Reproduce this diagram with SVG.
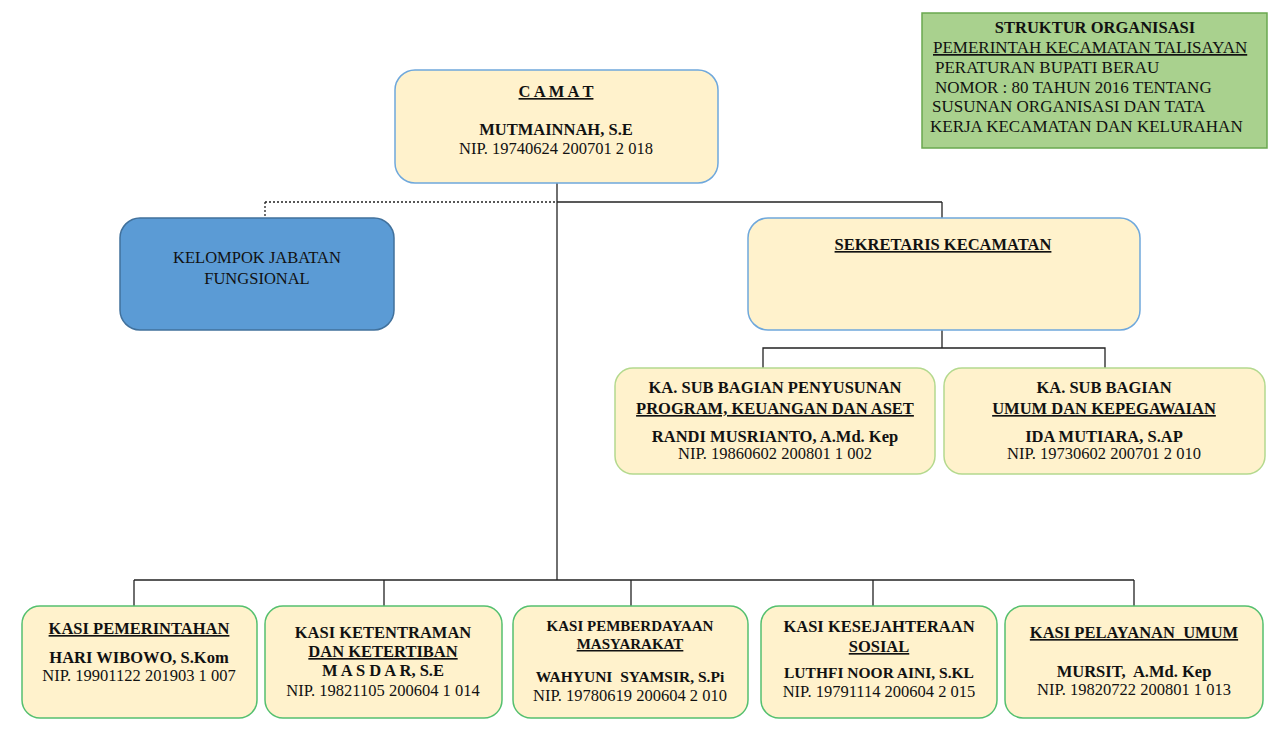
<svg xmlns="http://www.w3.org/2000/svg" width="1280" height="730" viewBox="0 0 1280 730">
<style>
text{font-family:"Liberation Serif","Times New Roman",serif;fill:#111;text-anchor:middle;font-size:16.5px}
.b{font-weight:bold}
.u{text-decoration:underline}
.l{text-anchor:start;font-size:17px}
.pre{white-space:pre}
.yb{fill:#fff2cc;stroke:#6fa8dc;stroke-width:1.5}
.gs{fill:#fff2cc;stroke:#b4d98e;stroke-width:1.5}
.gb{fill:#fff2cc;stroke:#55c06f;stroke-width:1.5}
.c{stroke:#222;stroke-width:1.3;fill:none}
</style>
<rect width="1280" height="730" fill="#ffffff"/>
<g id="connectors">
<line class="c" x1="557" y1="183" x2="557" y2="580"/>
<line class="c" x1="265" y1="202" x2="557" y2="202" stroke-dasharray="2,2"/>
<line class="c" x1="265" y1="202" x2="265" y2="218" stroke-dasharray="2,2"/>
<line class="c" x1="557" y1="202" x2="942" y2="202"/>
<line class="c" x1="942" y1="202" x2="942" y2="218"/>
<line class="c" x1="942" y1="330" x2="942" y2="348"/>
<polyline class="c" points="763,368 763,348 1105,348 1105,368"/>
<line class="c" x1="134" y1="580" x2="1134" y2="580"/>
<line class="c" x1="134" y1="580" x2="134" y2="606"/>
<line class="c" x1="384" y1="580" x2="384" y2="606"/>
<line class="c" x1="631" y1="580" x2="631" y2="606"/>
<line class="c" x1="873" y1="580" x2="873" y2="606"/>
<line class="c" x1="1134" y1="580" x2="1134" y2="606"/>
</g>
<g id="title">
<rect x="922" y="13" width="345" height="135" fill="#a9d18e" stroke="#6aa84f" stroke-width="1.5"/>
<text class="b" x="1095" y="33" style="font-size:16.5px">STRUKTUR ORGANISASI</text>
<text class="l u" x="933" y="53">PEMERINTAH KECAMATAN TALISAYAN</text>
<text class="l" x="935" y="73">PERATURAN BUPATI BERAU</text>
<text class="l" x="935" y="93">NOMOR : 80 TAHUN 2016 TENTANG</text>
<text class="l" x="932" y="112">SUSUNAN ORGANISASI DAN TATA</text>
<text class="l" x="930" y="132">KERJA KECAMATAN DAN KELURAHAN</text>
</g>
<g id="camat">
<rect class="yb" x="395" y="70" width="323" height="113" rx="20"/>
<text class="b u" x="556" y="97">C A M A T</text>
<text class="b" x="556" y="135">MUTMAINNAH, S.E</text>
<text x="556" y="154">NIP. 19740624 200701 2 018</text>
</g>
<g id="kelompok">
<rect x="120" y="218" width="274" height="112" rx="20" fill="#5b9bd5" stroke="#41719c" stroke-width="1.5"/>
<text x="257" y="263">KELOMPOK JABATAN</text>
<text x="257" y="284">FUNGSIONAL</text>
</g>
<g id="sekretaris">
<rect class="yb" x="748" y="218" width="392" height="112" rx="20"/>
<text class="b u" x="943" y="250">SEKRETARIS KECAMATAN</text>
</g>
<g id="subbag-program">
<rect class="gs" x="615" y="368" width="320" height="106" rx="18"/>
<text class="b" x="775" y="393">KA. SUB BAGIAN PENYUSUNAN</text>
<text class="b u" x="775" y="414">PROGRAM, KEUANGAN DAN ASET</text>
<text class="b" x="775" y="442">RANDI MUSRIANTO, A.Md. Kep</text>
<text x="775" y="459">NIP. 19860602 200801 1 002</text>
</g>
<g id="subbag-umum">
<rect class="gs" x="944" y="368" width="321" height="106" rx="18"/>
<text class="b" x="1104" y="393">KA. SUB BAGIAN</text>
<text class="b u" x="1104" y="414">UMUM DAN KEPEGAWAIAN</text>
<text class="b" x="1104" y="442">IDA MUTIARA, S.AP</text>
<text x="1104" y="459">NIP. 19730602 200701 2 010</text>
</g>
<g id="kasi-pemerintahan">
<rect class="gb" x="22" y="606" width="235" height="112" rx="18"/>
<text class="b u" x="139" y="634">KASI PEMERINTAHAN</text>
<text class="b" x="139" y="663">HARI WIBOWO, S.Kom</text>
<text x="139" y="681">NIP. 19901122 201903 1 007</text>
</g>
<g id="kasi-ketentraman">
<rect class="gb" x="265" y="606" width="237" height="112" rx="18"/>
<text class="b" x="383" y="638">KASI KETENTRAMAN</text>
<text class="b u" x="383" y="657">DAN KETERTIBAN</text>
<text class="b" x="383" y="676">M A S D A R, S.E</text>
<text x="383" y="696">NIP. 19821105 200604 1 014</text>
</g>
<g id="kasi-pemberdayaan">
<rect class="gb" x="513" y="606" width="235" height="112" rx="18"/>
<text class="b" x="630" y="631" style="font-size:15px">KASI PEMBERDAYAAN</text>
<text class="b u" x="630" y="649" style="font-size:15px">MASYARAKAT</text>
<text class="b pre" x="630" y="682" style="font-size:15.5px">WAHYUNI  SYAMSIR, S.Pi</text>
<text x="630" y="701">NIP. 19780619 200604 2 010</text>
</g>
<g id="kasi-kesejahteraan">
<rect class="gb" x="761" y="606" width="236" height="112" rx="18"/>
<text class="b" x="879" y="632">KASI KESEJAHTERAAN</text>
<text class="b u" x="879" y="652">SOSIAL</text>
<text class="b" x="879" y="678" style="font-size:15.5px">LUTHFI NOOR AINI, S.KL</text>
<text x="879" y="697">NIP. 19791114 200604 2 015</text>
</g>
<g id="kasi-pelayanan">
<rect class="gb" x="1005" y="606" width="258" height="112" rx="18"/>
<text class="b u pre" x="1134" y="638">KASI PELAYANAN  UMUM</text>
<text class="b pre" x="1134" y="677">MURSIT,  A.Md. Kep</text>
<text x="1134" y="695">NIP. 19820722 200801 1 013</text>
</g>
</svg>
